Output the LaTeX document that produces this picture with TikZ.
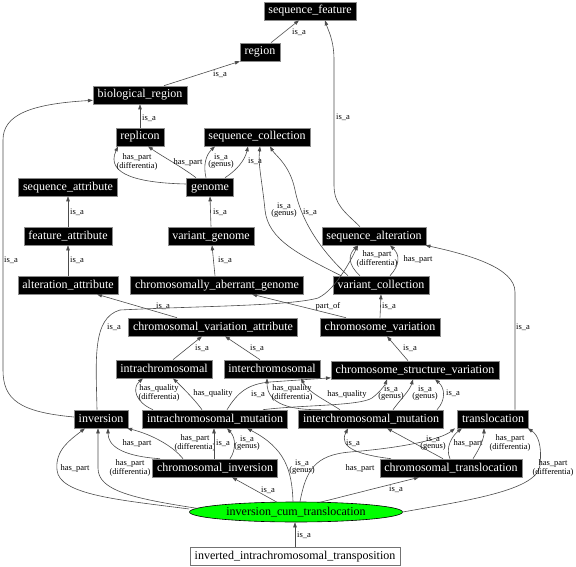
\documentclass[tikz,border=0pt]{standalone}
\usepackage{fontspec}
\setmainfont{Liberation Serif}
\usetikzlibrary{arrows.meta,shapes.geometric}
\begin{document}
\begin{tikzpicture}[x=1pt,y=-1pt,
  box/.style={fill=black, draw=black!45, line width=0.6pt, text=white,
    font=\fontsize{12}{12}\selectfont, inner xsep=4.5pt, inner ysep=3.5pt,
    text height=8.5pt, text depth=2.5pt},
  lab/.style={font=\fontsize{8.5}{7.5}\selectfont, align=center, inner sep=0pt},
  edge/.style={draw=black!70, line width=0.6pt, -{Triangle[length=5pt,width=3.5pt]}},
]
\useasboundingbox (0,0) rectangle (576,567);
% nodes
\node[box] (sf) at (310,11) {sequence\_feature};
\node[box] (region) at (260,52) {region};
\node[box] (bior) at (140,95) {biological\_region};
\node[box] (replicon) at (140,137) {replicon};
\node[box] (sc) at (257,137) {sequence\_collection};
\node[box] (seqattr) at (68,187) {sequence\_attribute};
\node[box] (genome) at (210,187) {genome};
\node[box] (featattr) at (68,236) {feature\_attribute};
\node[box] (vargen) at (211,236) {variant\_genome};
\node[box] (seqalt) at (374,236) {sequence\_alteration};
\node[box] (altattr) at (68,285) {alteration\_attribute};
\node[box] (cag) at (217,285) {chromosomally\_aberrant\_genome};
\node[box] (varcoll) at (381,285) {variant\_collection};
\node[box] (cva) at (213,327) {chromosomal\_variation\_attribute};
\node[box] (chrvar) at (380,327) {chromosome\_variation};
\node[box] (intra) at (164,369) {intrachromosomal};
\node[box] (inter) at (272,369) {interchromosomal};
\node[box] (csv) at (415,370) {chromosome\_structure\_variation};
\node[box] (inversion) at (101,419) {inversion};
\node[box] (intramut) at (215,419) {intrachromosomal\_mutation};
\node[box] (intermut) at (371,419) {interchromosomal\_mutation};
\node[box] (transloc) at (493,419) {translocation};
\node[box] (chrinv) at (215,468) {chromosomal\_inversion};
\node[box] (chrtrans) at (451,468) {chromosomal\_translocation};
\node[ellipse, draw=black, fill=green, line width=0.6pt, minimum width=213pt, minimum height=20pt, inner sep=0pt,
  font=\fontsize{12}{12}\selectfont] (ict) at (296,512) {inversion\_cum\_translocation};
\node[box, fill=white, text=black, draw=black!55] (iit) at (295,556) {inverted\_intrachromosomal\_transposition};

% edges
\draw[edge] ([xshift=11pt]region.north) -- ([xshift=-11pt]sf.south);
\node[lab] (l1) at (299,32) {is\_a};
\draw[edge] ([xshift=24pt]bior.north) -- (region.south west);
\node[lab] (l2) at (220,74) {is\_a};
\draw[edge] (replicon.north) -- (bior.south);
\node[lab] (l3) at (149,118) {is\_a};
\draw[edge] ([yshift=3pt]genome.west) .. controls (140,183) and (105,175) .. ([xshift=-22pt]replicon.south);
\node[lab] (l4) at (137,162) {has\_part\\(differentia)};
\draw[edge] ([xshift=-14pt]genome.north) .. controls (182,167) and (160,155) .. ([xshift=8pt]replicon.south);
\node[lab] (l5) at (188,162) {has\_part};
\draw[edge] ([xshift=-4pt]genome.north) .. controls (203,165) and (206,155) .. ([xshift=-42pt]sc.south);
\node[lab] (l6) at (221,161) {is\_a\\(genus)};
\draw[edge] ([xshift=15pt]genome.north) .. controls (237,170) and (245,160) .. ([xshift=-9pt]sc.south);
\node[lab] (l7) at (255,161) {is\_a};
\draw[edge] (vargen.north) -- (genome.south);
\node[lab] (l8) at (220,212) {is\_a};
\draw[edge] ([xshift=-2pt]cag.north) -- ([xshift=1pt]vargen.south);
\node[lab] (l9) at (225,260) {is\_a};
\draw[edge] (featattr.north) -- (seqattr.south);
\node[lab] (l10) at (77,212) {is\_a};
\draw[edge] (altattr.north) -- (featattr.south);
\node[lab] (l11) at (77,260) {is\_a};
\draw[edge] ([xshift=-14pt]seqalt.north) .. controls (345,212) and (334,205) .. (334,185) -- (334,60) .. controls (334,40) and (328,30) .. ([xshift=15pt]sf.south);
\node[lab] (l12) at (343,117) {is\_a};
\draw[edge] ([xshift=-40pt]varcoll.north) .. controls (300,255) and (268,240) .. (265,210) .. controls (262,180) and (258,165) .. ([xshift=3pt]sc.south);
\node[lab] (l13) at (284,210) {is\_a\\(genus)};
\draw[edge] ([xshift=-33pt]varcoll.north) .. controls (315,245) and (300,215) .. (295,190) .. controls (290,165) and (275,155) .. ([xshift=13pt]sc.south);
\node[lab] (l14) at (310,212) {is\_a};
\draw[edge] ([xshift=-21pt]varcoll.north) .. controls (348,265) and (348,255) .. ([xshift=-16pt]seqalt.south);
\node[lab] (l15) at (377,259) {has\_part\\(differentia)};
\draw[edge] ([xshift=9pt]varcoll.north) .. controls (400,265) and (400,255) .. ([xshift=16pt]seqalt.south);
\node[lab] (l16) at (418,259) {has\_part};
\draw[edge] ([xshift=-36pt]cva.north) -- ([xshift=29pt]altattr.south);
\node[lab] (l17) at (163,306) {is\_a};
\draw[edge] ([xshift=-34pt]chrvar.north) -- ([xshift=35pt]cag.south);
\node[lab] (l18) at (328,306) {part\_of};
\draw[edge] (chrvar.north) -- (varcoll.south);
\node[lab] (l19) at (389,306) {is\_a};
\draw[edge] ([xshift=9pt]intra.north) -- ([xshift=-11pt]cva.south);
\node[lab] (l20) at (202,348) {is\_a};
\draw[edge] ([xshift=-12pt]inter.north) -- ([xshift=12pt]cva.south);
\node[lab] (l21) at (257,348) {is\_a};
\draw[edge] ([xshift=-7pt]csv.north) -- ([xshift=7pt]chrvar.south);
\node[lab] (l22) at (410,348) {is\_a};
\draw[edge] ([yshift=2pt]inversion.west) .. controls (20,412) and (3,400) .. (3,370) -- (3,140) .. controls (3,115) and (30,104) .. ([yshift=4pt]bior.south west);
\node[lab] (l23) at (11,260) {is\_a};
\draw[edge] ([xshift=-4pt]inversion.north) .. controls (96,360) and (92,318) .. (120,310) .. controls (200,306) and (290,306) .. (318,298) .. controls (335,290) and (350,262) .. ([xshift=-16pt]seqalt.south);
\node[lab] (l24) at (114,327) {is\_a};
\draw[edge] ([xshift=-62pt]intramut.north) .. controls (135,402) and (132,388) .. ([xshift=-21pt]intra.south);
\node[lab] (l25) at (159,393) {has\_quality\\(differentia)};
\draw[edge] ([xshift=-13pt]intramut.north) .. controls (195,400) and (183,388) .. ([xshift=9pt]intra.south);
\node[lab] (l26) at (213,393) {has\_quality};
\draw[edge] ([xshift=12pt]intramut.north) .. controls (238,392) and (248,384) .. (270,382) -- ([yshift=1.5pt]csv.south west);
\node[lab] (l27) at (258,394) {is\_a};
\draw[edge] ([xshift=48pt]intramut.north) .. controls (300,405) and (360,406) .. (372,398) .. controls (380,392) and (385,385) .. ([xshift=-28pt]csv.south);
\node[lab] (l28) at (391,393) {is\_a\\(genus)};
\draw[edge] ([xshift=-50pt]intermut.north) .. controls (292,410) and (267,405) .. ([xshift=-5pt]inter.south);
\node[lab] (l29) at (292,393) {has\_quality\\(differentia)};
\draw[edge] ([xshift=-31pt]intermut.north) .. controls (325,400) and (308,392) .. ([xshift=29pt]inter.south);
\node[lab] (l30) at (347,394) {has\_quality};
\draw[edge] ([xshift=22pt]intermut.north) .. controls (400,400) and (410,390) .. ([xshift=-2pt]csv.south);
\node[lab] (l31) at (425,393) {is\_a\\(genus)};
\draw[edge] ([xshift=66pt]intermut.north) .. controls (446,400) and (445,388) .. ([xshift=20pt]csv.south);
\node[lab] (l32) at (453,393) {is\_a};
\draw[edge] ([xshift=22pt]transloc.north) -- (515,292) .. controls (515,268) and (470,255) .. ([xshift=-1pt]seqalt.south east);
\node[lab] (l33) at (523,327) {is\_a};
\draw[edge] ([xshift=-55pt]chrinv.north) .. controls (120,456) and (108,445) .. ([xshift=7pt]inversion.south);
\node[lab] (l34) at (137,443) {has\_part};
\draw[edge] ([xshift=-32pt]chrinv.north) .. controls (172,445) and (150,434) .. ([xshift=-1pt]inversion.south east);
\node[lab] (l35) at (195,443) {has\_part\\(differentia)};
\draw[edge] ([xshift=-1pt]chrinv.north) -- ([xshift=-1pt]intramut.south);
\node[lab] (l36) at (223,443) {is\_a};
\draw[edge] ([xshift=15pt]chrinv.north) .. controls (236,450) and (236,438) .. ([xshift=12pt]intramut.south);
\node[lab] (l37) at (247,443) {is\_a\\(genus)};
\draw[edge] ([yshift=3pt]ict.west) .. controls (120,500) and (59,495) .. (57,470) .. controls (55,450) and (70,440) .. ([xshift=-16pt]inversion.south);
\node[lab] (l38) at (75,468) {has\_part};
\draw[edge] ([xshift=-99pt,yshift=3.7pt]ict.center) .. controls (130,498) and (98,490) .. (98,468) -- ([xshift=-3pt]inversion.south);
\node[lab] (l39) at (130,468) {has\_part\\(differentia)};
\draw[edge] ([xshift=-19pt,yshift=9.8pt]ict.center) -- ([xshift=17pt]chrinv.south);
\node[lab] (l40) at (268,490) {is\_a};
\draw[edge] ([xshift=-3pt]ict.north) .. controls (292,470) and (285,448) .. ([xshift=32pt]intramut.south);
\node[lab] (l41) at (302,467) {is\_a\\(genus)};
\draw[edge] ([xshift=4pt]ict.north) .. controls (306,470) and (315,455) .. (350,452) .. controls (400,448) and (440,440) .. ([xshift=-38pt]transloc.south);
\node[lab] (l42) at (360,468) {has\_part};
\draw[edge] ([xshift=24pt,yshift=9.7pt]ict.center) -- ([xshift=-32pt]chrtrans.south);
\node[lab] (l43) at (396,489) {is\_a};
\draw[edge] (ict.east) .. controls (470,500) and (538,490) .. (540,465) .. controls (542,445) and (538,435) .. ([xshift=-1pt]transloc.south east);
\node[lab] (l44) at (553,468) {has\_part\\(differentia)};
\draw[edge] ([xshift=-60pt]chrtrans.north) .. controls (360,455) and (338,448) .. ([xshift=-23pt]intermut.south);
\node[lab] (l45) at (353,443) {is\_a};
\draw[edge] ([xshift=-8pt]chrtrans.north) -- ([xshift=16pt]intermut.south);
\node[lab] (l46) at (433,443) {is\_a\\(genus)};
\draw[edge] ([xshift=-1pt]chrtrans.north) .. controls (445,448) and (452,436) .. ([xshift=-31pt]transloc.south);
\node[lab] (l47) at (468,443) {has\_part};
\draw[edge] ([xshift=22pt]chrtrans.north) .. controls (480,448) and (484,438) .. ([xshift=-9pt]transloc.south);
\node[lab] (l48) at (510,443) {has\_part\\(differentia)};
\draw[edge] (iit.north) -- (iit.north |- ict.south);
\node[lab] (l49) at (304,535) {is\_a};
\end{tikzpicture}
\end{document}
